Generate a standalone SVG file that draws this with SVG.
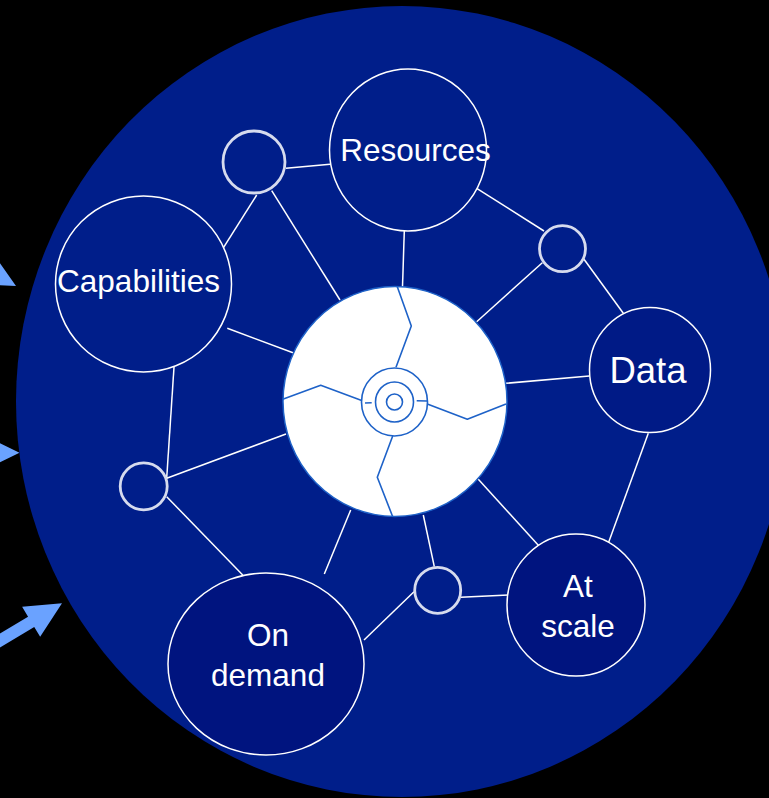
<svg xmlns="http://www.w3.org/2000/svg" width="769" height="798" viewBox="0 0 769 798">
<defs>
<style>
.conn line{stroke:#ffffff;stroke-width:1.5;}
.node{stroke:#ffffff;stroke-width:1.5;fill:#001E8A;}
.node.dark{fill:#00147F;}
.hub{fill:none;stroke:#d6dbee;stroke-width:2.8;filter:url(#soft);}
.lbl{font-family:"Liberation Sans",Arial,sans-serif;font-size:31.5px;fill:#ffffff;text-anchor:middle;}
.blue{fill:none;stroke:#1E62C8;stroke-width:1.6;stroke-linejoin:round;}
.arrow{fill:#6AA2FF;}
</style>
<filter id="soft" x="-20%" y="-20%" width="140%" height="140%"><feGaussianBlur stdDeviation="0.7"/></filter>
<polygon id="arr" points="0,0 -36,-17.5 -36,-6 -140,-6 -140,6 -36,6 -36,17.5"/>
</defs>
<rect width="769" height="798" fill="#000000"/>
<g id="arrows">
<use href="#arr" class="arrow" transform="translate(16,286) rotate(29)"/>
<use href="#arr" class="arrow" transform="translate(19.5,452.7) rotate(0)"/>
<use href="#arr" class="arrow" transform="translate(62,603.3) rotate(-31)"/>
</g>
<ellipse id="background" cx="402" cy="401.5" rx="386" ry="395.5" fill="#001E8A"/>
<g id="connectors" class="conn">
<line x1="286" y1="168.3" x2="330" y2="164.3"/>
<line x1="256.7" y1="195" x2="216.7" y2="258.3"/>
<line x1="271.7" y1="190.7" x2="340" y2="300"/>
<line x1="404.3" y1="230.7" x2="402.5" y2="287"/>
<line x1="476.7" y1="188.3" x2="544" y2="231"/>
<line x1="542.3" y1="262.7" x2="476.7" y2="321.7"/>
<line x1="584" y1="259.3" x2="623.3" y2="313.3"/>
<line x1="506" y1="383.3" x2="589.3" y2="376"/>
<line x1="648.3" y1="433.3" x2="608.3" y2="543.3"/>
<line x1="478.3" y1="479.3" x2="539" y2="546"/>
<line x1="423.3" y1="515" x2="434.3" y2="566.7"/>
<line x1="460.7" y1="597.3" x2="508.3" y2="595"/>
<line x1="414" y1="591.7" x2="364" y2="640"/>
<line x1="350.7" y1="510" x2="324.3" y2="574"/>
<line x1="166.7" y1="478.3" x2="286" y2="434"/>
<line x1="227.3" y1="328.3" x2="293" y2="352.7"/>
<line x1="174" y1="367" x2="166.7" y2="478.3"/>
<line x1="166.7" y1="496.7" x2="242.7" y2="575"/>
</g>
<g id="node-resources">
<ellipse class="node" cx="408" cy="150" rx="78.5" ry="81"/>
<text class="lbl" x="415.5" y="161">Resources</text>
</g>
<g id="node-capabilities">
<circle class="node" cx="143.5" cy="284" r="88"/>
<text class="lbl" x="138.5" y="292">Capabilities</text>
</g>
<g id="node-data">
<ellipse class="node" cx="650" cy="370" rx="60.5" ry="62.5" style="fill:#001A86"/>
<text class="lbl" x="648" y="383.3" style="font-size:36.5px">Data</text>
</g>
<g id="node-at-scale">
<ellipse class="node dark" cx="576" cy="605" rx="69" ry="71"/>
<text class="lbl" x="578" y="596.7">At</text>
<text class="lbl" x="578" y="636.7">scale</text>
</g>
<g id="node-on-demand">
<ellipse class="node dark" cx="266" cy="664" rx="98" ry="91"/>
<text class="lbl" x="268" y="645.7">On</text>
<text class="lbl" x="268" y="685.7">demand</text>
</g>
<g id="node-hub-a"><circle class="hub" cx="254" cy="162" r="31"/></g>
<g id="node-hub-b"><circle class="hub" cx="562.5" cy="248.7" r="23"/></g>
<g id="node-hub-c"><circle class="hub" cx="437.7" cy="590.3" r="23"/></g>
<g id="node-hub-d"><circle class="hub" cx="143.7" cy="486.3" r="23.5"/></g>
<g id="node-center">
<ellipse cx="395" cy="401.5" rx="112" ry="115" fill="#ffffff" stroke="#1E62C8" stroke-width="1.5"/>
<path class="blue" d="M397.3,286.7 L411.3,326 L396,367.3"/>
<path class="blue" d="M282.7,399.3 L320.7,385.3 L361.7,400.5 M365,403 L371.7,402.7"/>
<path class="blue" d="M506,404 L467.3,419.3 L427.3,404 M427,401 L416.7,400.7"/>
<path class="blue" d="M392.7,516.7 L377.3,477.3 L392.7,436"/>
<ellipse class="blue" cx="394.5" cy="402" rx="33" ry="34"/>
<ellipse class="blue" cx="394.5" cy="402" rx="19" ry="20"/>
<circle class="blue" cx="394.5" cy="402" r="8"/>
</g>
</svg>
